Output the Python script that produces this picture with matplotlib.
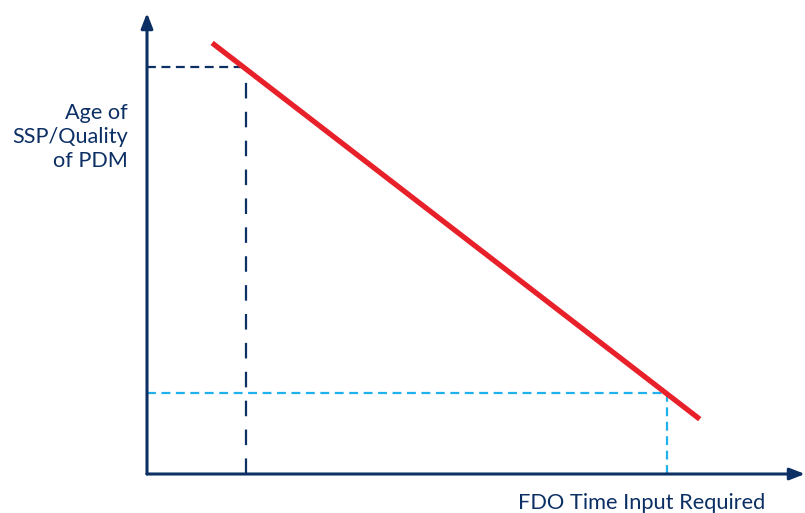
import matplotlib
matplotlib.use("Agg")
import matplotlib.pyplot as plt

# schematic values (abstract units, axes run 0..10)
line_x = [0.99, 8.40]
line_y = [9.35, 1.19]
point_a = (1.50, 8.83)   # high age / quality -> low FDO time
point_b = (7.90, 1.75)   # low age / quality -> high FDO time

y_label = "Age of\nSSP/Quality\nof PDM"
x_label = "FDO Time Input Required"

navy = "#0c2f64"
red = "#e8202a"
light_blue = "#1fb1ec"

W, H = 805, 513
fig = plt.figure(figsize=(W / 100, H / 100), dpi=100)
ox, oy = 147, 474  # origin in pixels
ax = fig.add_axes([ox / W, (H - oy) / H, (W - ox) / W, (oy - 13) / H])
ax.set_xlim(0, 10)
ax.set_ylim(0, 10)
ax.axis("off")

# axes with arrows
ax.annotate("", xy=(1.0, 0), xytext=(0, 0), xycoords="axes fraction",
            arrowprops=dict(arrowstyle="-|>,head_length=0.9,head_width=0.35",
                            color=navy, lw=2.2, shrinkA=0, shrinkB=0))
ax.annotate("", xy=(0, 1.0), xytext=(0, 0), xycoords="axes fraction",
            arrowprops=dict(arrowstyle="-|>,head_length=0.9,head_width=0.35",
                            color=navy, lw=2.2, shrinkA=0, shrinkB=0))

# guide lines
ax.plot([0, point_a[0]], [point_a[1], point_a[1]], color=navy, lw=1.6,
        dashes=(4, 2.5), clip_on=False)
ax.plot([point_a[0], point_a[0]], [0, point_a[1]], color=navy, lw=1.6,
        dashes=(7, 6), clip_on=False)
ax.plot([0, point_b[0]], [point_b[1], point_b[1]], color=light_blue, lw=1.6,
        dashes=(4, 2.5), clip_on=False)
ax.plot([point_b[0], point_b[0]], [0, point_b[1]], color=light_blue, lw=1.6,
        dashes=(4, 2.5), clip_on=False)

# main relationship
ax.plot(line_x, line_y, color=red, lw=3.8, solid_capstyle="butt", clip_on=False)

fig.text(128 / W, 1 - 137 / H, y_label, ha="right", va="center",
         fontsize=15.6, family="Lato", color=navy, linespacing=1.25)
fig.text(765 / W, 1 - 503 / H, x_label, ha="right", va="center",
         fontsize=15.7, family="Lato", color=navy)

fig.savefig("out.png", dpi=100)
